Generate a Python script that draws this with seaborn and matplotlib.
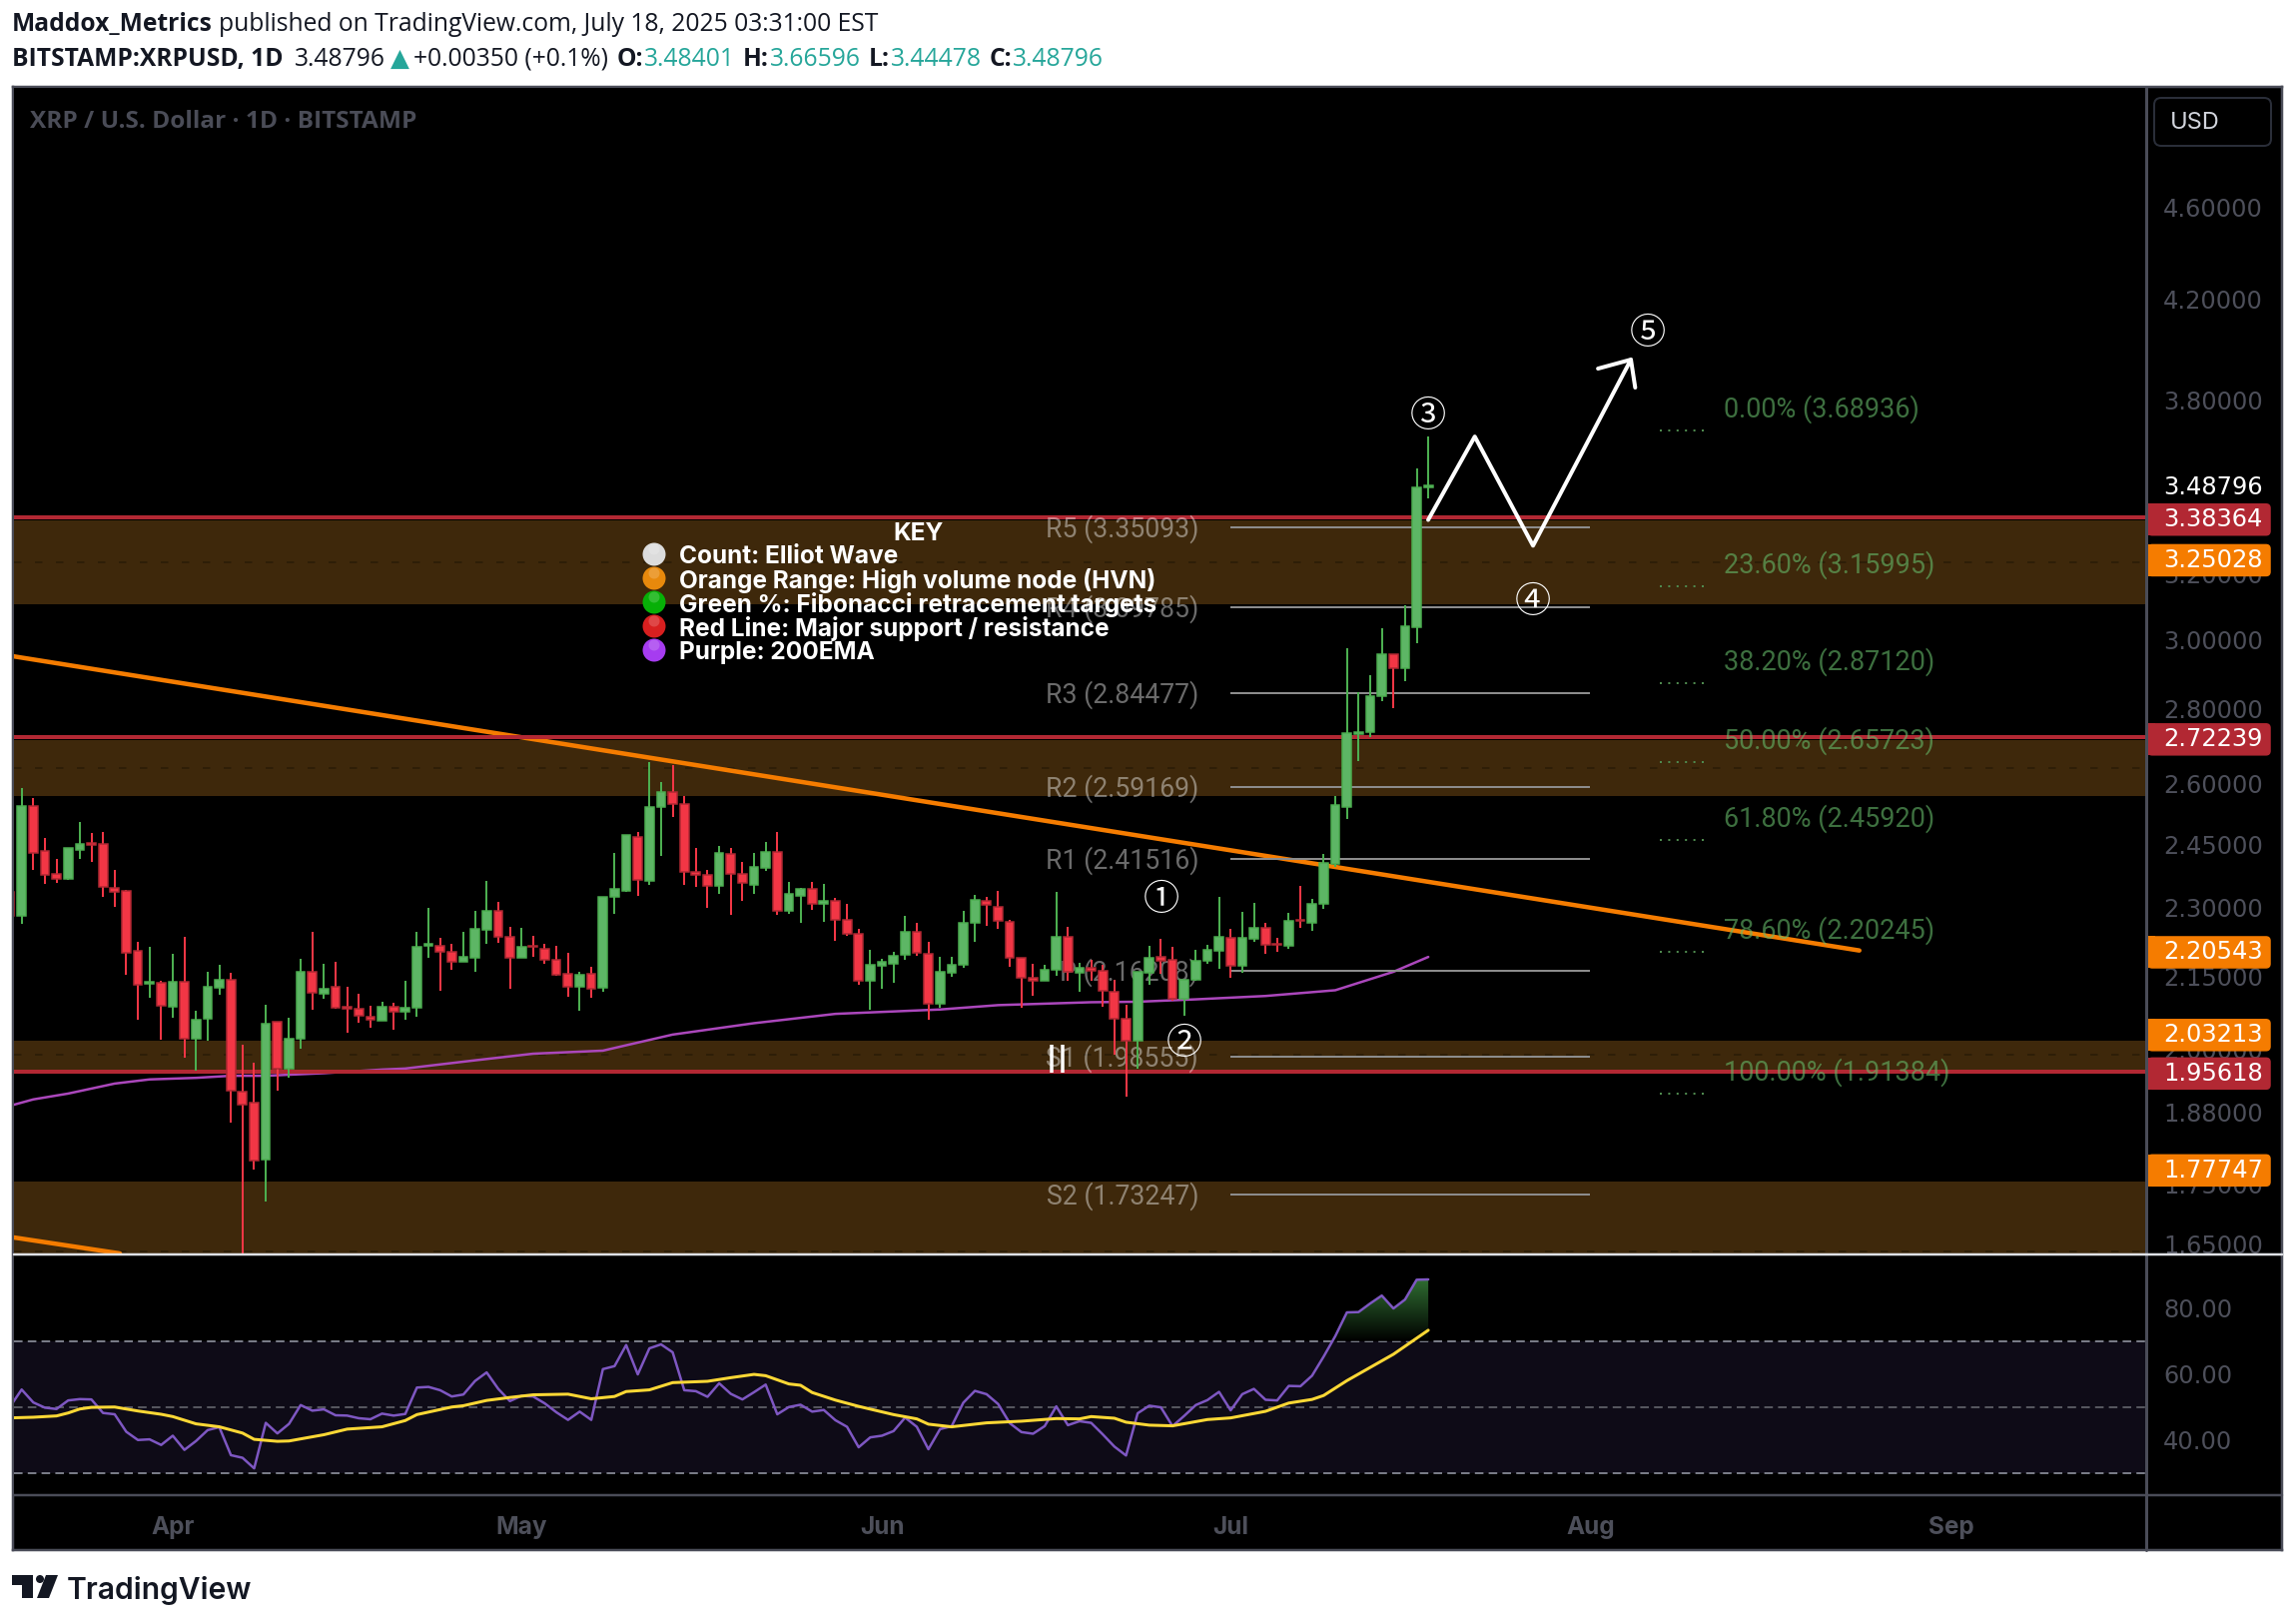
import numpy as np
import matplotlib
matplotlib.use('Agg')
import matplotlib.pyplot as plt
import seaborn as sns
from matplotlib.colors import LinearSegmentedColormap
from matplotlib.patches import FancyBboxPatch, Rectangle, Circle, Polygon
from matplotlib.ticker import FixedLocator, NullLocator, FixedFormatter

# ---------- data ----------
highs = [2.337,2.589,2.563,2.464,2.414,2.440,2.503,2.476,2.479,2.387,2.341,2.223,2.212,2.139,2.197,2.234,2.078,2.158,2.174,2.156,2.008,1.973,2.089,2.054,2.063,2.187,2.245,2.177,2.181,2.127,2.112,2.087,2.095,2.093,2.139,2.247,2.299,2.232,2.219,2.247,2.294,2.361,2.313,2.258,2.254,2.238,2.219,2.216,2.199,2.158,2.169,2.324,2.428,2.472,2.480,2.656,2.604,2.648,2.570,2.440,2.387,2.446,2.440,2.406,2.428,2.454,2.479,2.359,2.345,2.359,2.354,2.322,2.310,2.252,2.206,2.186,2.203,2.281,2.265,2.225,2.191,2.191,2.294,2.329,2.324,2.338,2.272,2.190,2.177,2.175,2.336,2.257,2.179,2.184,2.174,2.143,2.089,2.158,2.216,2.230,2.212,2.142,2.206,2.218,2.326,2.252,2.290,2.312,2.267,2.233,2.288,2.351,2.321,2.427,2.568,2.974,2.846,2.895,3.034,2.957,3.102,3.552,3.665]
body_tops = [2.337,2.543,2.545,2.432,2.378,2.440,2.449,2.452,2.449,2.345,2.338,2.205,2.137,2.135,2.137,2.137,2.060,2.127,2.143,2.141,1.918,1.896,2.050,2.054,2.020,2.158,2.158,2.124,2.127,2.085,2.081,2.066,2.085,2.085,2.083,2.212,2.219,2.216,2.203,2.191,2.252,2.294,2.294,2.236,2.212,2.215,2.208,2.184,2.154,2.152,2.154,2.324,2.343,2.472,2.468,2.542,2.580,2.580,2.550,2.384,2.377,2.428,2.427,2.379,2.394,2.430,2.430,2.331,2.343,2.343,2.317,2.315,2.273,2.242,2.173,2.180,2.194,2.245,2.245,2.198,2.160,2.175,2.265,2.319,2.315,2.302,2.269,2.188,2.147,2.164,2.236,2.236,2.168,2.168,2.161,2.117,2.062,2.158,2.188,2.191,2.185,2.142,2.183,2.206,2.236,2.233,2.232,2.256,2.256,2.219,2.270,2.273,2.310,2.404,2.546,2.733,2.738,2.836,2.957,2.956,3.038,3.485,3.493]
body_bottoms = [2.282,2.282,2.429,2.377,2.367,2.367,2.436,2.448,2.347,2.337,2.201,2.132,2.134,2.088,2.086,2.021,2.021,2.062,2.126,1.919,1.893,1.791,1.793,1.962,1.962,2.020,2.115,2.113,2.083,2.082,2.067,2.059,2.057,2.076,2.076,2.083,2.215,2.203,2.181,2.181,2.190,2.251,2.236,2.188,2.188,2.212,2.185,2.153,2.128,2.128,2.124,2.126,2.324,2.340,2.365,2.362,2.542,2.550,2.384,2.377,2.351,2.351,2.379,2.357,2.353,2.393,2.293,2.293,2.328,2.310,2.310,2.273,2.242,2.139,2.139,2.172,2.177,2.196,2.200,2.092,2.092,2.157,2.174,2.265,2.306,2.270,2.188,2.147,2.139,2.139,2.164,2.158,2.157,2.162,2.118,2.062,2.016,2.016,2.157,2.182,2.103,2.103,2.141,2.183,2.205,2.171,2.171,2.230,2.218,2.217,2.215,2.270,2.267,2.308,2.403,2.542,2.732,2.738,2.837,2.916,2.916,3.037,3.486]
lows = [2.282,2.264,2.388,2.355,2.357,2.364,2.415,2.407,2.325,2.302,2.152,2.059,2.104,2.018,2.063,1.983,1.958,2.016,2.110,1.860,1.607,1.775,1.720,1.919,1.945,2.001,2.079,2.102,2.081,2.033,2.053,2.043,2.057,2.038,2.059,2.065,2.189,2.118,2.163,2.181,2.159,2.219,2.222,2.123,2.188,2.191,2.177,2.151,2.106,2.077,2.104,2.117,2.287,2.337,2.327,2.353,2.421,2.516,2.352,2.347,2.300,2.332,2.284,2.315,2.332,2.385,2.284,2.287,2.266,2.295,2.268,2.226,2.237,2.131,2.079,2.123,2.136,2.184,2.194,2.059,2.083,2.148,2.168,2.224,2.259,2.253,2.170,2.084,2.108,2.139,2.150,2.139,2.117,2.139,2.086,1.989,1.909,1.962,2.132,2.155,2.097,2.067,2.139,2.177,2.165,2.146,2.157,2.224,2.198,2.202,2.208,2.255,2.248,2.298,2.395,2.511,2.659,2.723,2.822,2.802,2.878,2.988,3.447]
directions = ("RGRRRGGRRR" "RRGRGRGGGR" "RRGRGGRGRR" "RRGRGGGRRG" "GGRRGRRRRG" "RGGGRGGRRR"
              "RGRRGGRGGR" "GRRRGGGGRR" "GGGGRRRRRG" "GRGRRRRGGR" "RGGGGRGGRR" "GRGGGGGGGR" "GGG")
first_day = -14   # days relative to 1 April 2025

rsi_values = [50.1,55.3,51.4,49.8,49.4,52.0,52.4,52.3,48.2,47.8,42.5,40.0,40.2,38.5,41.3,37.0,39.7,43.0,43.9,35.4,34.6,31.4,45.2,42.0,44.9,50.6,48.9,49.3,47.5,47.4,46.6,46.3,48.0,47.4,47.9,55.9,56.1,55.1,53.2,53.8,57.9,60.5,55.5,51.8,53.4,53.2,51.1,48.4,46.1,48.6,46.1,61.5,62.4,68.8,59.9,67.8,69.0,66.6,55.1,54.8,53.1,57.2,54.0,52.3,54.5,56.8,47.8,50.0,50.7,48.6,49.1,46.0,44.0,37.8,40.8,41.3,42.7,46.8,44.0,37.2,43.3,44.2,51.3,54.9,53.9,50.9,45.1,42.4,41.9,44.2,50.2,44.5,45.7,45.2,41.7,38.0,35.3,48.1,50.4,49.9,44.2,47.3,50.6,52.1,54.6,49.0,53.9,55.5,52.2,52.0,56.4,56.3,59.5,65.3,71.5,78.7,78.8,81.4,83.8,79.9,82.6,88.6,88.7]
ma_days = [-14,-12,-10,-9,-8,-7,-5,-3,-1,0,2,4,6,7,9,10,13,15,18,20,21,24,25,27,29,31,34,36,38,39,41,43,46,48,50,51,53,54,55,57,59,62,64,65,67,70,73,76,78,79,81,82,84,86,89,91,94,96,98,99,101,105,108]
ma_values = [46.7,46.9,47.3,48.2,49.4,49.9,50.0,48.8,47.8,47.1,44.9,44.0,42.1,40.2,39.6,39.7,41.6,43.3,44.0,45.9,47.7,50.0,50.4,52.0,52.9,53.7,53.9,52.5,53.2,54.7,55.2,57.4,57.8,58.9,59.9,59.5,57.0,56.6,54.4,52.1,50.2,47.7,46.4,44.8,44.0,45.2,45.7,46.5,46.4,47.1,46.6,45.4,44.5,44.3,46.2,46.7,48.7,51.2,52.3,53.5,58.0,66.0,73.3]
ema_days = [-14,-12,-9,-5,-2,2,5,8,13,18,20,26,31,37,40,43,50,57,66,71,79,83,88,94,100,105,108]
ema_values = [1.891,1.903,1.914,1.933,1.941,1.944,1.948,1.948,1.953,1.960,1.962,1.978,1.991,1.997,2.013,2.029,2.052,2.071,2.080,2.089,2.095,2.096,2.101,2.108,2.120,2.159,2.191]

zones = [(3.107, 3.375), (2.570, 2.716), (1.960, 2.017), (1.600, 1.754)]
zone_mids = [3.237, 2.642, 1.990, 1.637]
support_levels = [3.38364, 2.72239, 1.95618]
trend_days, trend_prices = [-13.75, 145.08], [2.950, 2.205]
lower_trend_days, lower_trend_prices = [-13.66, -4.55], [1.660, 1.634]
wave_days, wave_prices = [107.99, 112.00, 117.01, 125.43], [3.376, 3.666, 3.291, 3.956]
barb_days, barb_prices = [122.6, 125.43, 125.8], [3.921, 3.956, 3.848]
pivot_names = ["R5", "R4", "R3", "R2", "R1", "P", "S1", "S2"]
pivot_levels = [3.35093, 3.09785, 2.84477, 2.59169, 2.41516, 2.16208, 1.98555, 1.73247]
fib_names = ["0.00%", "23.60%", "38.20%", "50.00%", "61.80%", "78.60%", "100.00%"]
fib_levels = [3.68936, 3.15995, 2.87120, 2.65723, 2.45920, 2.20245, 1.91384]
counts = [("①", 85.03, 2.327), ("②", 87.03, 2.018), ("③", 107.99, 3.756), ("④", 117.01, 3.125), ("⑤", 126.89, 4.075)]
price_ticks = [4.6, 4.2, 3.8, 3.2, 3.0, 2.8, 2.6, 2.45, 2.3, 2.15, 2.0, 1.88, 1.75, 1.65]
tag_values = [3.38364, 3.25028, 2.72239, 2.20543, 2.03213, 1.95618, 1.77747]
tag_kinds = ["red", "orange", "red", "orange", "orange", "red", "orange"]
last_price = 3.48796
month_labels = ["Apr", "May", "Jun", "Jul", "Aug", "Sep"]
month_days = [0, 30, 61, 91, 122, 153]
rsi_ticks = [80, 60, 40]
legend_rows = ["Count: Elliot Wave", "Orange Range: High volume node (HVN)",
               "Green %: Fibonacci retracement targets", "Red Line: Major support / resistance",
               "Purple: 200EMA"]
legend_colors = ["#dcdcdc", "#e8890c", "#07b007", "#d81f1f", "#a63cf0"]

# ---------- styling ----------
W, H = 2298, 1626
PX = 0.72  # points per pixel at dpi 100
GREEN_BODY, GREEN_EDGE = "#5db665", "#4caf50"
RED_BODY, RED_EDGE = "#f23645", "#b22833"
ORANGE = "#f57c00"
AXIS_TXT = "#4d4f5a"
FRAME = "#4a4c58"
ZONE = "#3e280b"
DARK = "#131722"
TEAL = "#26a69a"

sns.set_theme(style="dark", rc={"axes.facecolor": "black", "figure.facecolor": "white"})
plt.rcParams["font.family"] = ["Open Sans", "DejaVu Sans"]


def box(l, t, r, b):
    return [l / W, 1 - b / H, (r - l) / W, (b - t) / H]


fig = plt.figure(figsize=(W / 100, H / 100), dpi=100)
bg = fig.add_axes(box(13, 87, 2285, 1552))
bg.set_xticks([]); bg.set_yticks([])
for s in bg.spines.values():
    s.set_color(FRAME); s.set_linewidth(2.5 * PX)

ax = fig.add_axes(box(14, 88, 2148, 1255))
rx = fig.add_axes(box(14, 1257, 2148, 1497))
for a in (ax, rx):
    a.set_facecolor("black")
    for s in a.spines.values():
        s.set_visible(False)

days = first_day + np.arange(len(highs))
highs, lows = np.array(highs), np.array(lows)
body_tops, body_bottoms = np.array(body_tops), np.array(body_bottoms)
up = np.array([c == "G" for c in directions])

# ---------- main pane ----------
ax.set_yscale("log")
for lo, hi in zones:
    ax.axhspan(lo, hi, color=ZONE, lw=0, zorder=1)
for m in zone_mids:
    ax.axhline(m, color="#2a1b07", lw=1.5 * PX, ls=(0, (5, 9)), zorder=1.1)

sns.lineplot(x=ema_days, y=ema_values, ax=ax, color="#ab47bc", lw=2.5 * PX, zorder=2, estimator=None, sort=False)
sns.lineplot(x=trend_days, y=trend_prices, ax=ax, color=ORANGE, lw=4.5 * PX, zorder=2.5, estimator=None, sort=False)
sns.lineplot(x=lower_trend_days, y=lower_trend_prices, ax=ax, color=ORANGE, lw=4.5 * PX, zorder=2.5, estimator=None, sort=False)
for lv in support_levels:
    ax.axhline(lv, color=RED_EDGE, lw=4 * PX, zorder=3)

# pivots
for name, lv in zip(pivot_names, pivot_levels):
    ax.hlines(lv, 90.98, 121.91, color="#8c8c8c", lw=2 * PX, zorder=3.2)
    ax.annotate(f"{name} ({lv:.5f})", (88.23, lv), xytext=(0, -2 * PX), textcoords="offset points",
                color=(1, 1, 1, 0.42), family="Roboto", fontsize=19.2, ha="right", va="center", zorder=3.3)
ax.vlines([75.60, 76.55], 1.954, 2.009, color="white", lw=3.5 * PX, zorder=5)

# fibs
for name, lv in zip(fib_names, fib_levels):
    ax.hlines(lv, 127.92, 131.79, color="#4f8a4f", lw=2 * PX, ls=(0, (1, 3.2)), zorder=3.2)
    ax.annotate(f"{name} ({lv:.5f})", (133.42, lv), xytext=(0, 21.5 * PX), textcoords="offset points",
                color="#66bb6a", alpha=0.6, family="Roboto", fontsize=19.45, ha="left", va="center", zorder=3.3)

# candles
wick_c = np.where(up, GREEN_EDGE, RED_BODY)
ax.vlines(days, lows, highs, colors=wick_c, lw=2 * PX, zorder=4)
ax.bar(days, body_tops - body_bottoms, bottom=body_bottoms, width=0.75,
       color=np.where(up, GREEN_BODY, RED_BODY), edgecolor=np.where(up, GREEN_EDGE, RED_EDGE),
       linewidth=1.5 * PX, zorder=4.1)

# wave path
sns.lineplot(x=wave_days, y=wave_prices, ax=ax, color="white", lw=4 * PX, zorder=6, estimator=None, sort=False)
sns.lineplot(x=barb_days, y=barb_prices, ax=ax, color="white", lw=4 * PX, zorder=6, estimator=None, sort=False)
for label, d, p in counts:
    ax.annotate(label, (d, p), xytext=(0, -4 * PX), textcoords="offset points", color="white", fontsize=26,
                ha="center", va="center", family=["Noto Sans CJK SC", "DejaVu Sans"], zorder=7)

ax.set_xlim(-13.66, 169.67)
ax.set_ylim(1.634, 5.176)
ax.set_xticks([])
ax.yaxis.tick_right()
ax.yaxis.set_major_locator(FixedLocator(price_ticks))
ax.yaxis.set_major_formatter(FixedFormatter([f"{t:.5f}" for t in price_ticks]))
ax.yaxis.set_minor_locator(NullLocator())
ax.tick_params(axis="y", length=0, pad=13, labelcolor=AXIS_TXT, labelsize=17.4)
for t in ax.get_yticklabels():
    t.set_family("DejaVu Sans")
ax.grid(False)

# ---------- RSI pane ----------
rx.axhspan(30, 70, color="#0e0b17", lw=0, zorder=1)
for lv, col in ((70, "#787b86"), (50, "#55565e"), (30, "#787b86")):
    rx.axhline(lv, color=col, lw=2 * PX, ls=(0, (4.3, 2.6)), zorder=1.5)
rsi = np.array(rsi_values)
sns.lineplot(x=days, y=rsi, ax=rx, color="#7e57c2", lw=2.5 * PX, zorder=3, estimator=None, sort=False)
sns.lineplot(x=ma_days, y=ma_values, ax=rx, color="#fdd835", lw=3 * PX, zorder=4, estimator=None, sort=False)
rx.set_xlim(-13.66, 169.67)
rx.set_ylim(23.27, 95.97)
fill = rx.fill_between(days, rsi, 70, where=rsi >= 70, interpolate=True, color="none", lw=0)
cmap = LinearSegmentedColormap.from_list("ob", ["#000000", "#2f6c31"])
grad = rx.imshow(np.linspace(1, 0, 128).reshape(-1, 1), extent=(98, 110, 70, rsi.max()), aspect="auto",
                 cmap=cmap, zorder=2, vmin=0, vmax=1)
grad.set_clip_path(fill.get_paths()[0], rx.transData)
rx.set_xlim(-13.66, 169.67)
rx.set_ylim(23.27, 95.97)
rx.yaxis.tick_right()
rx.set_yticks(rsi_ticks, [f"{t:.2f}" for t in rsi_ticks])
rx.tick_params(axis="y", length=0, pad=13, labelcolor=AXIS_TXT, labelsize=17.4)
for t in rx.get_yticklabels():
    t.set_family("DejaVu Sans")
rx.set_xticks(month_days, month_labels)
rx.tick_params(axis="x", length=0, pad=15, labelcolor=AXIS_TXT, labelsize=17.5)
for t in rx.get_xticklabels():
    t.set_family("Inter"); t.set_fontweight("bold")
rx.grid(False)

# ---------- overlay in pixel coordinates ----------
ov = fig.add_axes([0, 0, 1, 1], facecolor="none", zorder=20)
ov.set_xlim(0, W); ov.set_ylim(H, 0); ov.axis("off")
ov.plot([2149, 2149], [88, 1552], color=FRAME, lw=3 * PX)
ov.plot([14, 2285], [1496.5, 1496.5], color=FRAME, lw=2.5 * PX)
ov.plot([14, 2285], [1255.5, 1255.5], color="#dfe1e6", lw=2.5 * PX)


def price_y(p):
    return H - ax.transData.transform((0, p))[1]


for val, kind in zip(tag_values, tag_kinds):
    y = price_y(val) + 2
    col = RED_EDGE if kind == "red" else ORANGE
    ov.add_patch(FancyBboxPatch((2151, y - 15.5), 122, 31, boxstyle="round,pad=0,rounding_size=4", fc=col, ec=col, lw=1.5 * PX))
    ov.add_patch(Rectangle((2150, y - 16), 8, 32, fc=col, ec="none"))
    ov.text(2166, y, f"{val:.5f}", color="white", fontsize=17.4, family="DejaVu Sans", ha="left", va="center")
ov.text(2166, price_y(last_price), f"{last_price:.5f}", color="white", fontsize=17.4, family="DejaVu Sans", ha="left", va="center")

ov.add_patch(FancyBboxPatch((2157, 98), 117, 48, boxstyle="round,pad=0,rounding_size=7", fc="black", ec="#2a2e39", lw=2 * PX))
ov.text(2198, 123, "USD", color="#d1d4dc", family="Inter", fontsize=17, ha="center", va="center")
ov.text(30, 122, "XRP / U.S. Dollar · 1D · BITSTAMP", color="#4a4c57", family="Open Sans", fontweight="bold",
        fontsize=17.6, ha="left", va="center")

# legend
ov.text(920, 534, "KEY", color="white", family="Inter", fontweight="bold", fontsize=17.6, ha="center", va="center")
for i, (txt, col) in enumerate(zip(legend_rows, legend_colors)):
    y = 555 + 24 * i
    ov.add_patch(Circle((655, y), 11.5, fc=col, ec="none"))
    ov.add_patch(Circle((655, y - 5), 5.5, fc="white", ec="none", alpha=0.18))
    ov.text(680, y + 2.5, txt, color="white", family="Inter", fontweight="bold", fontsize=17.6, ha="left", va="center")

# header


def runs(x, y, parts):
    r = fig.canvas.get_renderer()
    for txt, col, weight, gap in parts:
        t = ov.text(x, y, txt, color=col, fontweight=weight, family=["Open Sans", "DejaVu Sans"], fontsize=17.7,
                    ha="left", va="baseline")
        x += t.get_window_extent(r).width + gap


runs(12, 31, [("Maddox_Metrics", DARK, "bold", 6),
              ("published on TradingView.com, July 18, 2025 03:31:00 EST", DARK, "normal", 0)])
runs(12, 66, [("BITSTAMP:XRPUSD, 1D", DARK, "bold", 11), ("3.48796", DARK, "normal", 5), ("▲", TEAL, "normal", 5),
              ("+0.00350 (+0.1%)", DARK, "normal", 8), ("O:", DARK, "bold", 1), ("3.48401", TEAL, "normal", 8),
              ("H:", DARK, "bold", 1), ("3.66596", TEAL, "normal", 8), ("L:", DARK, "bold", 1),
              ("3.44478", TEAL, "normal", 8), ("C:", DARK, "bold", 1), ("3.48796", TEAL, "normal", 0)])

# logo
ov.add_patch(Polygon([(12, 1577), (33, 1577), (33, 1600), (22, 1600), (22, 1587), (12, 1587)], fc=DARK, ec="none"))
ov.add_patch(Circle((40, 1581), 4, fc=DARK, ec="none"))
ov.add_patch(Polygon([(46, 1577), (58, 1577), (49, 1600), (37, 1600)], fc=DARK, ec="none"))
ov.text(67, 1592, "TradingView", color=DARK, family="Inter", fontweight="semibold", fontsize=21.6, ha="left", va="center")

fig.savefig("out.png", dpi=100, facecolor="white")
